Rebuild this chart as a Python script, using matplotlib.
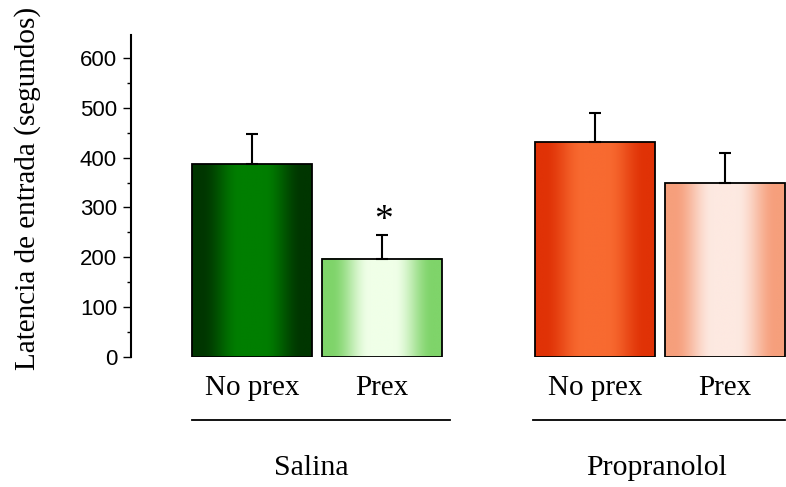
import numpy as np
import matplotlib
matplotlib.use("Agg")
import matplotlib.pyplot as plt
from matplotlib.patches import Rectangle
from matplotlib.colors import to_rgb
from matplotlib.ticker import MultipleLocator
import matplotlib.transforms as mtransforms

# ---- data ----
bar_labels = ["No prex", "Prex", "No prex", "Prex"]
groups = ["Salina", "Propranolol"]
means = [387, 197, 431, 349]
sem = [60, 48, 59, 60]
significant = [False, True, False, False]

edge_colors = ["#003600", "#7fd46a", "#e03206", "#f69f7c"]
center_colors = ["#007e00", "#f0ffe8", "#f86a30", "#fde9e1"]

positions = [0.0, 1.0, 2.64, 3.64]
width = 0.923

fig = plt.figure(figsize=(7.86, 4.87), dpi=100)
W, H = 786, 487
ax_left, ax_right, ax_top, ax_bot = 131, 786, 35, 357
ax = fig.add_axes([ax_left / W, (H - ax_bot) / H, (ax_right - ax_left) / W, (ax_bot - ax_top) / H])

ymax = 646
xlim = (-0.931, 4.108)

def grad_img(edge, center, n=256):
    e = np.array(to_rgb(edge)); c = np.array(to_rgb(center))
    t = np.linspace(0, 1, n)
    d = np.abs(t - 0.5) * 2  # 0 center, 1 edge
    f = np.clip((d - 0.2) / 0.65, 0, 1)
    f = f * f * (3 - 2 * f)
    img = c[None, :] * (1 - f[:, None]) + e[None, :] * f[:, None]
    return img[None, :, :]

for x, m, ec, cc in zip(positions, means, edge_colors, center_colors):
    x0, x1 = x - width / 2, x + width / 2
    ax.imshow(grad_img(ec, cc), extent=(x0, x1, 0, m), aspect="auto",
              interpolation="bilinear", zorder=2)
    ax.add_patch(Rectangle((x0, 0), width, m, fill=False, edgecolor="black",
                           linewidth=1.3, zorder=3))

ax.errorbar(positions, means, yerr=[np.zeros(len(sem)), sem], fmt="none",
            ecolor="black", elinewidth=1.5, capsize=4, capthick=1.5, zorder=4)

for x, m, s, sig in zip(positions, means, sem, significant):
    if sig:
        ax.annotate("*", (x, m + s), xytext=(1, -2), textcoords="offset points",
                    ha="center", va="bottom", fontsize=27, family="Liberation Serif")

ax.set_xlim(*xlim)
ax.set_ylim(0, ymax)

for s in ["top", "right", "bottom"]:
    ax.spines[s].set_visible(False)
ax.spines["left"].set_linewidth(1.5)

ax.yaxis.set_major_locator(MultipleLocator(100))
ax.yaxis.set_minor_locator(MultipleLocator(50))
ax.set_yticks(range(0, 601, 100))
ax.tick_params(axis="y", which="major", length=6, width=1.0, labelsize=16, pad=4)
ax.tick_params(axis="y", which="minor", length=3, width=1.0)
for lbl in ax.get_yticklabels():
    lbl.set_family("Liberation Sans")

ax.set_xticks(positions)
ax.set_xticklabels(bar_labels, family="Liberation Serif", fontsize=21)
ax.tick_params(axis="x", length=0, pad=13)

ax.set_ylabel("Latencia de entrada (segundos)", family="Liberation Serif",
              fontsize=21)
ax.yaxis.set_label_coords((41 - ax_left) / (ax_right - ax_left), (357 - 188) / (ax_bot - ax_top))

trans = mtransforms.blended_transform_factory(ax.transData, ax.transAxes)
line_spans = [(-0.4615, 1.523), (2.16, 4.1)]
group_centers = [0.46, 3.11]
for (a, b) in line_spans:
    ax.plot([a, b], [-0.196, -0.196], color="black", lw=1.3, transform=trans, clip_on=False)
for cx, g in zip(group_centers, groups):
    ax.text(cx, -0.345, g, transform=trans, ha="center", va="center",
            family="Liberation Serif", fontsize=21.5)

fig.savefig("out.png", dpi=100)
